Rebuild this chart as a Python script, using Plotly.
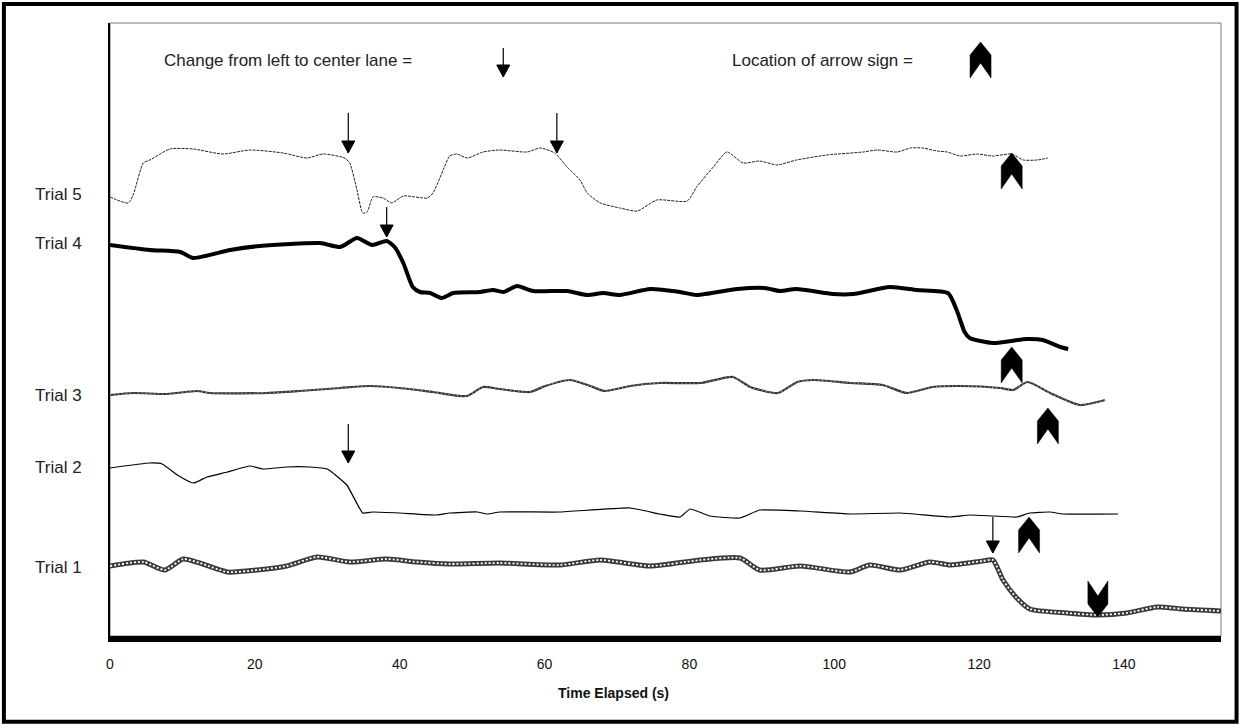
import plotly.graph_objects as go

# ---------------- data (time in s, lateral position in arbitrary units) ----------------
t5_time = [0, 2.5, 3.2, 4.6, 5.5, 8.3, 11.5, 15.6, 19.3, 23.9, 27.2, 29.4, 32.4, 33.1, 34.1, 34.9,
           35.5, 36.3, 37.7, 38.9, 40.5, 43.8, 44.6, 46.0, 46.9, 47.9, 49.3, 51.5, 53.8, 57.6, 59.4,
           61.4, 63.1, 64.9, 65.9, 67.7, 70.4, 72.8, 75.5, 79.7, 81.0, 83.3, 85.2, 87.4, 89.7, 92.1,
           94.8, 99.0, 104.0, 105.9, 108.7, 110.5, 112.2, 114.2, 115.6, 117.4, 119.7, 121.9, 124.5,
           126.1, 128.0, 129.5]
t5_pos = [441, 435, 443, 475, 478, 489, 489, 484, 488, 485, 480, 484, 480, 475, 448, 425,
          426, 441, 440, 435, 442, 440, 445, 468, 482, 484, 480, 486, 488, 486, 490,
          485, 471, 458, 445, 435, 430, 427, 438, 437, 451, 471, 486, 475, 477, 473,
          478, 483, 486, 488, 486, 490, 490, 487, 486, 482, 484, 482, 484,
          478, 478, 480]

t4_time = [0, 5.5, 9.7, 11.5, 16.6, 20.7, 29.0, 31.8, 34.1, 36.2, 38.2, 39.3, 40.5, 41.8, 42.8,
           44.2, 45.8, 47.4, 51.1, 52.9, 54.3, 56.2, 58.4, 63.1, 65.9, 68.1, 70.4, 74.6, 78.7, 81.0,
           86.6, 90.4, 92.5, 94.8, 99.8, 102.6, 107.7, 111.4, 115.7, 116.9, 118.0, 118.7, 121.9,
           126.6, 128.8, 131.2, 132.3]
t4_pos = [393, 388, 386, 380, 388, 392, 395, 391, 400, 393, 397, 391, 375, 351, 346,
          345, 340, 345, 346, 348, 346, 352, 347, 347, 343, 345, 343, 349, 346, 343,
          349, 350, 347, 349, 344, 344, 351, 348, 345, 328, 306, 300, 295,
          299, 298, 291, 289]

t3_time = [0, 3.2, 7.9, 12.0, 13.8, 21.7, 26.2, 31.8, 35.9, 40.0, 44.6, 49.3, 51.5, 53.8, 58.0,
           60.1, 63.5, 66.3, 68.3, 71.8, 75.9, 81.5, 86.0, 88.4, 92.2, 94.9, 97.1, 102.2, 106.7,
           110.0, 113.6, 117.4, 122.9, 124.7, 126.7, 129.8, 133.9, 137.4]
t3_pos = [243, 245, 244, 247, 245, 245, 247, 250, 252, 250, 246, 242, 251, 249, 246,
          252, 258, 252, 247, 252, 255, 255, 261, 251, 245, 256, 258, 255, 253,
          245, 251, 252, 250, 248, 256, 245, 233, 238]

t2_time = [0, 5.5, 7.2, 9.3, 11.5, 13.4, 16.2, 19.3, 21.1, 24.4, 27.6, 30.0, 32.7, 34.9, 36.3,
           40.0, 45.1, 46.9, 50.7, 52.1, 53.8, 62.1, 71.8, 75.9, 78.7, 80.1, 82.8, 87.0, 89.7,
           95.3, 102.2, 109.1, 116.0, 118.7, 121.9, 125.2, 127.0, 129.8, 131.6, 139.2]
t2_pos = [170, 175, 174, 163, 155, 161, 166, 172, 169, 171, 171, 169, 153, 125, 126,
          125, 123, 125, 126, 124, 126, 126, 130, 124, 121, 129, 122, 120, 128,
          127, 124, 125, 121, 123, 122, 121, 125, 126, 124, 124]

t1_time = [0, 4.6, 7.6, 10.1, 12.4, 16.2, 20.3, 24.4, 28.6, 33.1, 38.2, 42.4, 46.9, 53.8, 62.1,
           67.7, 74.6, 81.5, 87.0, 89.7, 95.3, 102.2, 104.9, 109.1, 113.2, 116.0, 120.5, 121.9,
           123.3, 125.2, 127.0, 132.1, 136.4, 140.4, 144.6, 148.1, 153.4]
t1_pos = [72, 76, 68, 79, 75, 66, 68, 72, 81, 76, 79, 76, 74, 75, 73,
          78, 72, 78, 80, 68, 72, 66, 73, 68, 76, 73, 77, 78,
          58, 40, 29, 25, 23, 25, 31, 29, 27]

trial_names = ["Trial 1", "Trial 2", "Trial 3", "Trial 4", "Trial 5"]
trial_label_pos = [71, 171, 243, 395, 444]

# lane-change arrows: time, tip position, tail position (last one is the key symbol)
lane_change_time = [32.9, 61.7, 38.2, 32.9, 121.9, 54.3]
lane_change_tip = [485, 485, 401, 175, 85, 561]
lane_change_tail = [525, 525, 431, 214, 121, 590]

# arrow-sign locations: time, apex position, pointing direction (first one is the key symbol)
sign_time = [120.2, 124.5, 124.5, 129.5, 126.9, 136.4]
sign_apex = [596, 485, 291, 230, 121, 21]
sign_dir = ["up", "up", "up", "up", "up", "down"]

x_ticks = [0, 20, 40, 60, 80, 100, 120, 140]
x_range = [0, 153.4]
y_range = [2, 615]

FONT = "Liberation Sans, Arial, sans-serif"
NARROW = "Liberation Sans Narrow, Arial Narrow, Liberation Sans, Arial, sans-serif"

fig = go.Figure()

# Trial 5: thin dotted
fig.add_trace(go.Scatter(x=t5_time, y=t5_pos, mode="lines",
                         line=dict(color="#222222", width=1, dash="3px,1px", shape="spline", smoothing=0.6),
                         hoverinfo="skip"))
# Trial 4: heavy solid
fig.add_trace(go.Scatter(x=t4_time, y=t4_pos, mode="lines",
                         line=dict(color="black", width=4, shape="spline", smoothing=0.6),
                         hoverinfo="skip"))
# Trial 3: serrated thin
fig.add_trace(go.Scatter(x=t3_time, y=t3_pos, mode="lines",
                         line=dict(color="#333333", width=2.2, shape="spline", smoothing=0.6),
                         hoverinfo="skip"))
fig.add_trace(go.Scatter(x=t3_time, y=t3_pos, mode="lines",
                         line=dict(color="white", width=0.7, dash="1px,3px", shape="spline", smoothing=0.6),
                         hoverinfo="skip"))
# Trial 2: thin solid
fig.add_trace(go.Scatter(x=t2_time, y=t2_pos, mode="lines",
                         line=dict(color="black", width=1.2, shape="spline", smoothing=0.4),
                         hoverinfo="skip"))
# Trial 1: chain-like heavy line
fig.add_trace(go.Scatter(x=t1_time, y=t1_pos, mode="lines",
                         line=dict(color="#3a3a3a", width=5, shape="spline", smoothing=0.6),
                         hoverinfo="skip"))
fig.add_trace(go.Scatter(x=t1_time, y=t1_pos, mode="lines",
                         line=dict(color="white", width=1.8, dash="2px,2px", shape="spline", smoothing=0.6),
                         hoverinfo="skip"))

shapes = []
# lane change arrows
for t, tip, tail in zip(lane_change_time, lane_change_tip, lane_change_tail):
    shapes.append(dict(type="line", xref="x", yref="y", x0=t, x1=t, y0=tip, y1=tail,
                       line=dict(color="black", width=1.2)))
    shapes.append(dict(type="path", xref="x", yref="y", xsizemode="pixel", ysizemode="pixel",
                       xanchor=t, yanchor=tip, path="M0,0 L-6.5,12 L6.5,12 Z",
                       fillcolor="black", line=dict(color="black", width=1)))
# arrow signs (chevrons)
for t, apex, d in zip(sign_time, sign_apex, sign_dir):
    if d == "up":
        p = "M0,0 L10.5,-13 L10.5,-36 L0,-21 L-10.5,-36 L-10.5,-13 Z"
    else:
        p = "M0,0 L10,13 L10,36 L0,21 L-10,36 L-10,13 Z"
    shapes.append(dict(type="path", xref="x", yref="y", xsizemode="pixel", ysizemode="pixel",
                       xanchor=t, yanchor=apex, path=p,
                       fillcolor="black", line=dict(color="black", width=0.5)))

# frame of plot area (grey top/right) and outer border
shapes.append(dict(type="rect", xref="paper", yref="paper", x0=0, x1=1, y0=0, y1=1,
                   line=dict(color="#7a7a7a", width=1), layer="below"))
shapes.append(dict(type="rect", xref="paper", yref="paper",
                   x0=-0.0955, x1=1.0140, y0=-0.1400, y1=1.0310,
                   line=dict(color="black", width=4)))

annotations = []
for name, yp in zip(trial_names, trial_label_pos):
    annotations.append(dict(x=-0.0235, xref="paper", y=yp, yref="y", text=name, showarrow=False,
                            xanchor="right", yanchor="middle",
                            font=dict(family=FONT, size=17, color="#222222")))
annotations.append(dict(x=0.0468, xref="paper", y=0.9396, yref="paper",
                        text="Change from left to center lane =", showarrow=False,
                        xanchor="left", yanchor="middle",
                        font=dict(family=FONT, size=17, color="#222222")))
annotations.append(dict(x=0.5580, xref="paper", y=0.9396, yref="paper",
                        text="Location of arrow sign =", showarrow=False,
                        xanchor="left", yanchor="middle",
                        font=dict(family=FONT, size=17, color="#222222")))
annotations.append(dict(x=0.4536, xref="paper", y=-0.093, yref="paper",
                        text="<b>Time Elapsed (s)</b>", showarrow=False,
                        xanchor="center", yanchor="middle",
                        font=dict(family=NARROW, size=14, color="#111111")))

fig.update_layout(
    width=1241, height=728,
    margin=dict(l=110, r=20, t=23, b=92, pad=0),
    paper_bgcolor="white", plot_bgcolor="white",
    showlegend=False,
    shapes=shapes, annotations=annotations,
    xaxis=dict(range=x_range, tickvals=x_ticks, showgrid=False, zeroline=False,
               showline=True, linewidth=6, linecolor="black", ticks="",
               ticklabelstandoff=10,
               tickfont=dict(family=NARROW, size=14, color="#111111")),
    yaxis=dict(range=y_range, showgrid=False, zeroline=False, showticklabels=False,
               showline=True, linewidth=1.5, linecolor="black", ticks=""),
)

fig.write_html("out.html", config={"displayModeBar": False},
               post_script="document.body.style.margin='0';")
